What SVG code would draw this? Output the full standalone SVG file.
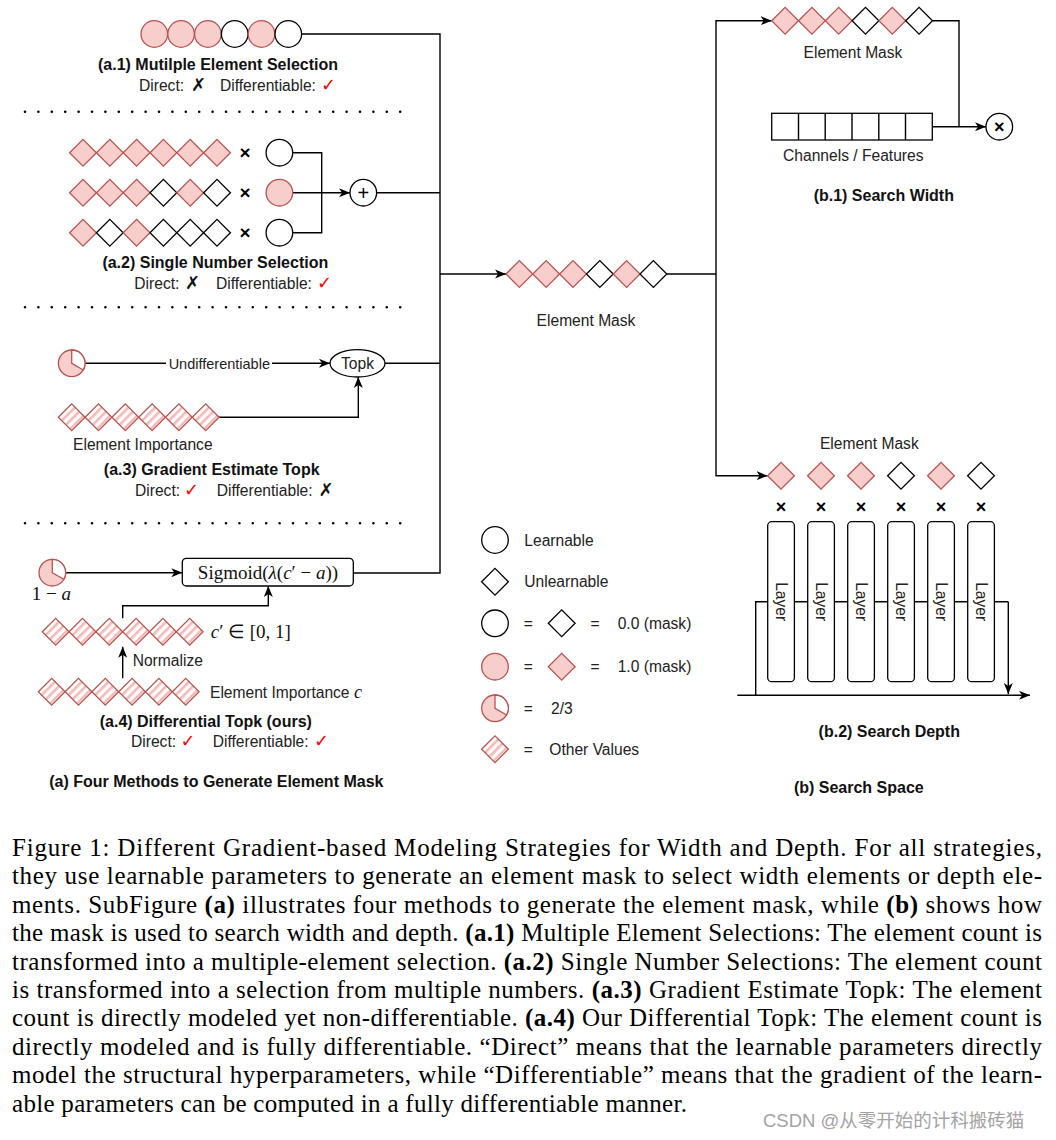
<svg xmlns="http://www.w3.org/2000/svg" xmlns:xlink="http://www.w3.org/1999/xlink" width="1056" height="1140" viewBox="0 0 1056 1140">
<style>
.pk{fill:#f8cecc;stroke:#b85450;stroke-width:1.3}
.wh{fill:#fff;stroke:#000;stroke-width:1.3}
.ht{fill:url(#hatch);stroke:#b85450;stroke-width:1.3}
.ln{fill:none;stroke:#000;stroke-width:1.4}
.ar{marker-end:url(#ah)}
.dots{fill:none;stroke:#000;stroke-width:2.6;stroke-linecap:round;stroke-dasharray:0 13.4}
.t{font-family:"Liberation Sans",Arial,sans-serif;font-size:15.6px;fill:#222}
.b{font-family:"Liberation Sans",Arial,sans-serif;font-size:16px;font-weight:bold;fill:#111}
.m{font-family:"Liberation Serif","Times New Roman",serif;font-size:19px;fill:#111}
.x{font-family:"Liberation Sans",Arial,sans-serif;font-size:19px;font-weight:bold;fill:#000;text-anchor:middle}
.sym{font-family:"DejaVu Sans",sans-serif;font-size:18px}
.red{fill:#ff0000}
.cap{font-family:"Liberation Serif","Times New Roman",serif;font-size:25px;fill:#000}
.mid{text-anchor:middle}
</style>
<defs>
<pattern id="hatch" width="6" height="6" patternUnits="userSpaceOnUse" patternTransform="rotate(45)">
<rect width="6" height="6" fill="#fff"/><rect width="2.6" height="6" fill="#f5b9b7"/>
</pattern>
<path id="dm" d="M-13.4,0 L0,-13.4 L13.4,0 L0,13.4Z"/>
<marker id="ah" viewBox="0 0 11 10" refX="11" refY="5" markerWidth="11" markerHeight="10" markerUnits="userSpaceOnUse" orient="auto">
<path d="M0,0.5 L11,5 L0,9.5 L3,5Z" fill="#000"/>
</marker>
</defs>
<rect width="1056" height="1140" fill="#fff"/>

<g id="connectors">
<path class="ln" d="M301.6,34 H440 V573 H353.3"/>
<path class="ln" d="M292.7,152.7 H321.7 V232.7 H292.7"/>
<path class="ln ar" d="M292.7,192.7 H350"/>
<path class="ln" d="M376.6,192.7 H440"/>
<path class="ln" d="M85,363.3 H166"/>
<path class="ln ar" d="M272,363.3 H330"/>
<path class="ln" d="M385,363.3 H440"/>
<path class="ln ar" d="M219,417.3 H358.3 V377"/>
<path class="ln ar" d="M65.6,572.7 H182.3"/>
<path class="ln ar" d="M122.7,618.3 V605.7 H268.3 V586"/>
<path class="ln ar" d="M122.7,678.3 V646.7"/>
<path class="ln ar" d="M440,274 H506"/>
<path class="ln" d="M666.4,274 H716"/>
<path class="ln ar" d="M716,274 V20.7 H771.7"/>
<path class="ln ar" d="M716,274 V475.7 H767.6"/>
<path class="ln" d="M932.5,20.7 H959 V126.7"/>
<path class="ln ar" d="M932.3,126.7 H986"/>
<path class="ln" d="M755.7,695.3 V601.7 H1008.3"/>
<path class="ln ar" d="M1008.3,601.7 V694"/>
<path class="ln ar" d="M737.3,695.3 H1030"/>
</g>

<g id="separators">
<path class="dots" d="M25,111.7 H402"/>
<path class="dots" d="M25,307.3 H402"/>
<path class="dots" d="M25,523.3 H402"/>
</g>

<g id="a1">
<circle class="pk" cx="154.3" cy="34" r="13.3"/>
<circle class="pk" cx="181.1" cy="34" r="13.3"/>
<circle class="pk" cx="207.9" cy="34" r="13.3"/>
<circle class="wh" cx="234.7" cy="34" r="13.3"/>
<circle class="pk" cx="261.5" cy="34" r="13.3"/>
<circle class="wh" cx="288.3" cy="34" r="13.3"/>
<text class="b mid" x="218" y="70">(a.1) Mutilple Element Selection</text>
<text class="t" x="139" y="90.5">Direct:</text>
<text class="sym" x="191" y="91" fill="#111">✗</text>
<text class="t" x="220" y="90.5">Differentiable:</text>
<text class="sym red" x="321" y="91">✓</text>
</g>

<g id="a2">
<use href="#dm" x="83" y="152.7" class="pk"/><use href="#dm" x="109.8" y="152.7" class="pk"/><use href="#dm" x="136.6" y="152.7" class="pk"/><use href="#dm" x="163.4" y="152.7" class="pk"/><use href="#dm" x="190.2" y="152.7" class="pk"/><use href="#dm" x="217" y="152.7" class="pk"/>
<use href="#dm" x="83" y="192.7" class="pk"/><use href="#dm" x="109.8" y="192.7" class="pk"/><use href="#dm" x="136.6" y="192.7" class="pk"/><use href="#dm" x="163.4" y="192.7" class="wh"/><use href="#dm" x="190.2" y="192.7" class="pk"/><use href="#dm" x="217" y="192.7" class="wh"/>
<use href="#dm" x="83" y="232.7" class="pk"/><use href="#dm" x="109.8" y="232.7" class="wh"/><use href="#dm" x="136.6" y="232.7" class="pk"/><use href="#dm" x="163.4" y="232.7" class="wh"/><use href="#dm" x="190.2" y="232.7" class="wh"/><use href="#dm" x="217" y="232.7" class="wh"/>
<text class="x" x="245" y="159">×</text>
<text class="x" x="245" y="199">×</text>
<text class="x" x="245" y="239">×</text>
<circle class="wh" cx="279.4" cy="152.7" r="13.3"/>
<circle class="pk" cx="279.4" cy="192.7" r="13.3"/>
<circle class="wh" cx="279.4" cy="232.7" r="13.3"/>
<circle class="wh" cx="363.3" cy="192.7" r="13.3"/>
<text class="t mid" x="363.3" y="199.5" style="font-size:20px;fill:#000">+</text>
<text class="b mid" x="215.3" y="268">(a.2) Single Number Selection</text>
<text class="t" x="134.3" y="288.5">Direct:</text>
<text class="sym" x="185" y="289" fill="#111">✗</text>
<text class="t" x="216" y="288.5">Differentiable:</text>
<text class="sym red" x="317" y="289">✓</text>
</g>

<g id="a3">
<circle class="pk" cx="71.7" cy="363.3" r="13.3"/>
<path class="wh" style="stroke:#b85450" d="M71.7,363.3 L71.7,350 A13.3,13.3 0 0 1 83.22,369.95 Z"/>
<text class="t mid" x="219.3" y="368.5" style="font-size:14.5px">Undifferentiable</text>
<ellipse class="wh" cx="357.5" cy="363.3" rx="27.5" ry="13.7"/>
<text class="t mid" x="357.5" y="368.8">Topk</text>
<use href="#dm" x="71.7" y="417.3" class="ht"/><use href="#dm" x="98.5" y="417.3" class="ht"/><use href="#dm" x="125.3" y="417.3" class="ht"/><use href="#dm" x="152.1" y="417.3" class="ht"/><use href="#dm" x="178.9" y="417.3" class="ht"/><use href="#dm" x="205.7" y="417.3" class="ht"/>
<text class="t mid" x="142.8" y="449.5">Element Importance</text>
<text class="b mid" x="211.7" y="475">(a.3) Gradient Estimate Topk</text>
<text class="t" x="135" y="495.5">Direct:</text>
<text class="sym red" x="184" y="496">✓</text>
<text class="t" x="216.7" y="495.5">Differentiable:</text>
<text class="sym" x="318.5" y="496" fill="#111">✗</text>
</g>

<g id="a4">
<circle class="pk" cx="52.3" cy="572.7" r="13.3"/>
<path class="wh" style="stroke:#b85450" d="M52.3,572.7 L52.3,559.4 A13.3,13.3 0 0 1 63.82,579.35 Z"/>
<text class="m" x="31.7" y="599.5">1 − <tspan font-style="italic">a</tspan></text>
<rect class="wh" x="182.3" y="558.3" width="171" height="27.7" rx="4"/>
<text class="m mid" x="268" y="578.8">Sigmoid(<tspan font-style="italic">λ</tspan>(<tspan font-style="italic">c</tspan>′ − <tspan font-style="italic">a</tspan>))</text>
<use href="#dm" x="55.7" y="631.7" class="ht"/><use href="#dm" x="82.5" y="631.7" class="ht"/><use href="#dm" x="109.3" y="631.7" class="ht"/><use href="#dm" x="136.1" y="631.7" class="ht"/><use href="#dm" x="162.9" y="631.7" class="ht"/><use href="#dm" x="189.7" y="631.7" class="ht"/>
<text class="m" x="210.7" y="638"><tspan font-style="italic">c</tspan>′ ∈ [0, 1]</text>
<text class="t" x="132.7" y="666">Normalize</text>
<use href="#dm" x="51.7" y="691.7" class="ht"/><use href="#dm" x="78.5" y="691.7" class="ht"/><use href="#dm" x="105.3" y="691.7" class="ht"/><use href="#dm" x="132.1" y="691.7" class="ht"/><use href="#dm" x="158.9" y="691.7" class="ht"/><use href="#dm" x="185.7" y="691.7" class="ht"/>
<text class="t" x="210" y="697.5">Element Importance <tspan class="m" font-style="italic" style="font-size:18px">c</tspan></text>
<text class="b mid" x="205.8" y="727">(a.4) Differential Topk (ours)</text>
<text class="t" x="131" y="746.5">Direct:</text>
<text class="sym red" x="180.5" y="747">✓</text>
<text class="t" x="212.7" y="746.5">Differentiable:</text>
<text class="sym red" x="314" y="747">✓</text>
<text class="b mid" x="216.3" y="786.5">(a) Four Methods to Generate Element Mask</text>
</g>

<g id="mask-center">
<use href="#dm" x="519.4" y="274" class="pk"/><use href="#dm" x="546.2" y="274" class="pk"/><use href="#dm" x="573" y="274" class="pk"/><use href="#dm" x="599.8" y="274" class="wh"/><use href="#dm" x="626.6" y="274" class="pk"/><use href="#dm" x="653.4" y="274" class="wh"/>
<text class="t mid" x="586" y="325.5">Element Mask</text>
</g>

<g id="b1">
<use href="#dm" x="785.1" y="20.7" class="pk"/><use href="#dm" x="811.9" y="20.7" class="pk"/><use href="#dm" x="838.7" y="20.7" class="pk"/><use href="#dm" x="865.5" y="20.7" class="wh"/><use href="#dm" x="892.3" y="20.7" class="pk"/><use href="#dm" x="919.1" y="20.7" class="wh"/>
<text class="t mid" x="853" y="58">Element Mask</text>
<rect class="wh" x="771.7" y="113.3" width="160.6" height="26.7"/>
<path class="ln" d="M798.5,113.3 V140 M825.2,113.3 V140 M852,113.3 V140 M878.8,113.3 V140 M905.5,113.3 V140"/>
<text class="t mid" x="853.3" y="161">Channels / Features</text>
<circle class="wh" cx="999.3" cy="126.7" r="13.3"/>
<text class="x" x="999.3" y="133.3" style="font-size:18px">×</text>
<text class="b mid" x="883.8" y="201">(b.1) Search Width</text>
</g>

<g id="b2">
<text class="t mid" x="869.3" y="448.5">Element Mask</text>
<use href="#dm" x="781" y="475.7" class="pk"/><use href="#dm" x="821" y="475.7" class="pk"/><use href="#dm" x="861" y="475.7" class="pk"/><use href="#dm" x="901" y="475.7" class="wh"/><use href="#dm" x="941" y="475.7" class="pk"/><use href="#dm" x="981" y="475.7" class="wh"/>
<g class="x" style="font-size:18px">
<text x="781" y="512.5">×</text><text x="821" y="512.5">×</text><text x="861" y="512.5">×</text><text x="901" y="512.5">×</text><text x="941" y="512.5">×</text><text x="981" y="512.5">×</text>
</g>
<rect class="wh" x="767.7" y="521.7" width="26.7" height="160" rx="4"/>
<rect class="wh" x="807.7" y="521.7" width="26.7" height="160" rx="4"/>
<rect class="wh" x="847.7" y="521.7" width="26.7" height="160" rx="4"/>
<rect class="wh" x="887.7" y="521.7" width="26.7" height="160" rx="4"/>
<rect class="wh" x="927.7" y="521.7" width="26.7" height="160" rx="4"/>
<rect class="wh" x="967.7" y="521.7" width="26.7" height="160" rx="4"/>
<g class="t mid">
<text transform="translate(775.5,601.7) rotate(90)">Layer</text>
<text transform="translate(815.5,601.7) rotate(90)">Layer</text>
<text transform="translate(855.5,601.7) rotate(90)">Layer</text>
<text transform="translate(895.5,601.7) rotate(90)">Layer</text>
<text transform="translate(935.5,601.7) rotate(90)">Layer</text>
<text transform="translate(975.5,601.7) rotate(90)">Layer</text>
</g>
<text class="b mid" x="889.3" y="737">(b.2) Search Depth</text>
<text class="b mid" x="858.8" y="793">(b) Search Space</text>
</g>

<g id="legend">
<circle class="wh" cx="495" cy="540" r="13.3"/>
<text class="t" x="524.3" y="545.5">Learnable</text>
<use href="#dm" x="495" y="581.7" class="wh"/>
<text class="t" x="524.3" y="587">Unlearnable</text>
<circle class="wh" cx="495" cy="623.3" r="13.3"/>
<text class="t mid" x="528.3" y="628.8">=</text>
<use href="#dm" x="561.7" y="623.3" class="wh"/>
<text class="t mid" x="595" y="628.8">=</text>
<text class="t" x="617.7" y="628.8">0.0 (mask)</text>
<circle class="pk" cx="495" cy="666.7" r="13.3"/>
<text class="t mid" x="528.3" y="672">=</text>
<use href="#dm" x="561.7" y="666.7" class="pk"/>
<text class="t mid" x="595" y="672">=</text>
<text class="t" x="617.7" y="672">1.0 (mask)</text>
<circle class="pk" cx="495" cy="708.3" r="13.3"/>
<path class="wh" style="stroke:#b85450" d="M495,708.3 L495,695 A13.3,13.3 0 0 1 506.52,714.95 Z"/>
<text class="t mid" x="528.3" y="713.8">=</text>
<text class="t" x="551" y="713.8">2/3</text>
<use href="#dm" x="495" y="749.3" class="ht"/>
<text class="t mid" x="528.3" y="754.8">=</text>
<text class="t" x="549.3" y="754.8">Other Values</text>
</g>

<g id="caption" class="cap">
<text x="12" y="856" textLength="1030" lengthAdjust="spacing">Figure 1: Different Gradient-based Modeling Strategies for Width and Depth.  For all strategies,</text>
<text x="12" y="884.4" textLength="1030" lengthAdjust="spacing">they use learnable parameters to generate an element mask to select width elements or depth ele-</text>
<text x="12" y="912.8" textLength="1030" lengthAdjust="spacing">ments. SubFigure <tspan font-weight="bold">(a)</tspan> illustrates four methods to generate the element mask, while <tspan font-weight="bold">(b)</tspan> shows how</text>
<text x="12" y="941.2" textLength="1030" lengthAdjust="spacing">the mask is used to search width and depth. <tspan font-weight="bold">(a.1)</tspan> Multiple Element Selections: The element count is</text>
<text x="12" y="969.6" textLength="1030" lengthAdjust="spacing">transformed into a multiple-element selection. <tspan font-weight="bold">(a.2)</tspan> Single Number Selections: The element count</text>
<text x="12" y="998" textLength="1030" lengthAdjust="spacing">is transformed into a selection from multiple numbers. <tspan font-weight="bold">(a.3)</tspan> Gradient Estimate Topk: The element</text>
<text x="12" y="1026.4" textLength="1030" lengthAdjust="spacing">count is directly modeled yet non-differentiable. <tspan font-weight="bold">(a.4)</tspan> Our Differential Topk: The element count is</text>
<text x="12" y="1054.8" textLength="1030" lengthAdjust="spacing">directly modeled and is fully differentiable. “Direct” means that the learnable parameters directly</text>
<text x="12" y="1083.2" textLength="1030" lengthAdjust="spacing">model the structural hyperparameters, while “Differentiable” means that the gradient of the learn-</text>
<text x="12" y="1111.6" textLength="675" lengthAdjust="spacing">able parameters can be computed in a fully differentiable manner.</text>
</g>
<text x="763" y="1127" style="font-family:'Liberation Sans','Noto Sans CJK SC',sans-serif;font-size:18.5px;fill:#a3a3a3">CSDN @从零开始的计科搬砖猫</text>
</svg>
